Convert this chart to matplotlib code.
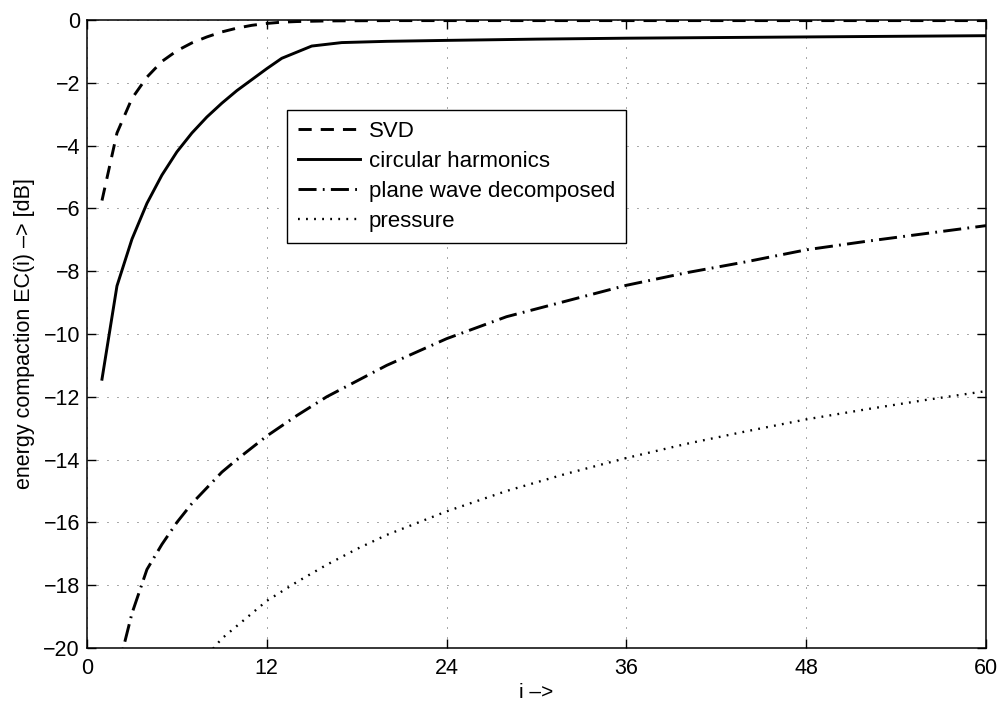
import matplotlib
matplotlib.use("Agg")
import matplotlib.pyplot as plt

# --- Daten ---
i_svd = [1, 2, 3, 4, 5, 6, 7, 8, 9, 10, 11, 12, 13, 14, 16, 20, 30, 40, 50, 60]
ec_svd = [-5.75, -3.6, -2.5, -1.82, -1.32, -0.98, -0.73, -0.54, -0.38, -0.26,
          -0.17, -0.11, -0.07, -0.05, -0.03, -0.02, -0.02, -0.02, -0.02, -0.02]

i_ch = [1, 2, 3, 4, 5, 6, 7, 8, 9, 10, 11, 12, 13, 15, 17, 20, 24, 30, 36, 42, 48, 54, 60]
ec_ch = [-11.44, -8.47, -6.98, -5.84, -4.94, -4.2, -3.6, -3.09, -2.65, -2.25,
         -1.9, -1.55, -1.22, -0.83, -0.72, -0.68, -0.65, -0.61, -0.58, -0.56,
         -0.54, -0.52, -0.5]

i_pw = [2, 3, 4, 5, 6, 7, 8, 9, 10, 12, 14, 16, 18, 20, 24, 28, 32, 36, 40, 44, 48, 52, 56, 60]
ec_pw = [-20.8, -18.9, -17.5, -16.7, -16.0, -15.4, -14.9, -14.4, -14.0, -13.25,
         -12.6, -12.0, -11.5, -11.0, -10.15, -9.45, -8.95, -8.45, -8.05, -7.7,
         -7.32, -7.05, -6.8, -6.55]

i_pr = [7, 8, 9, 10, 11, 12, 14, 16, 18, 20, 24, 28, 32, 36, 40, 44, 48, 52, 56, 60]
ec_pr = [-20.8, -20.25, -19.7, -19.3, -18.9, -18.5, -17.9, -17.35, -16.85, -16.4,
         -15.65, -15.0, -14.45, -13.95, -13.5, -13.1, -12.72, -12.4, -12.1, -11.82]

xticks = [0, 12, 24, 36, 48, 60]
yticks = list(range(-20, 1, 2))

plt.rcParams["font.family"] = ["Liberation Sans", "DejaVu Sans"]
plt.rcParams["lines.scale_dashes"] = False

fig = plt.figure(figsize=(10, 7.06), dpi=100)
ax = fig.add_axes([0.087, 0.0822, 0.899, 0.8895])

lw = 2.1
ax.plot(i_svd, ec_svd, color="black", lw=lw, dashes=(9.5, 6.5), label="SVD")
ax.plot(i_ch, ec_ch, color="black", lw=lw, linestyle="-", label="circular harmonics")
ax.plot(i_pw, ec_pw, color="black", lw=lw, dashes=(13, 4.5, 1.3, 4.5),
        label="plane wave decomposed")
ax.plot(i_pr, ec_pr, color="black", lw=lw * 0.8, dashes=(1.3, 4.5), label="pressure")

ax.set_xlim(0, 60)
ax.set_ylim(-20, 0)
ax.set_xticks(xticks)
ax.set_yticks(yticks)

ax.grid(True, color="0.3", linewidth=0.7, dashes=(0.7, 6.5))
ax.tick_params(direction="in", length=6.5, width=1.0, top=True, right=True,
               labelsize=15.5)
ax.tick_params(axis="x", pad=7.5)
ax.tick_params(axis="y", pad=5)
for sp in ax.spines.values():
    sp.set_linewidth(1.1)

ax.set_xlabel("i –>", fontsize=15, labelpad=2.5)
ax.set_ylabel("energy compaction EC(i) –> [dB]", fontsize=15.5, labelpad=6)

leg = ax.legend(loc="upper left", bbox_to_anchor=(0.222, 0.857), fontsize=16,
                frameon=True, fancybox=False, edgecolor="black", framealpha=1,
                handlelength=2.8, handletextpad=0.4, borderpad=0.5,
                labelspacing=0.4, borderaxespad=0)
leg.get_frame().set_linewidth(1.0)

fig.savefig("out.png", dpi=100)
